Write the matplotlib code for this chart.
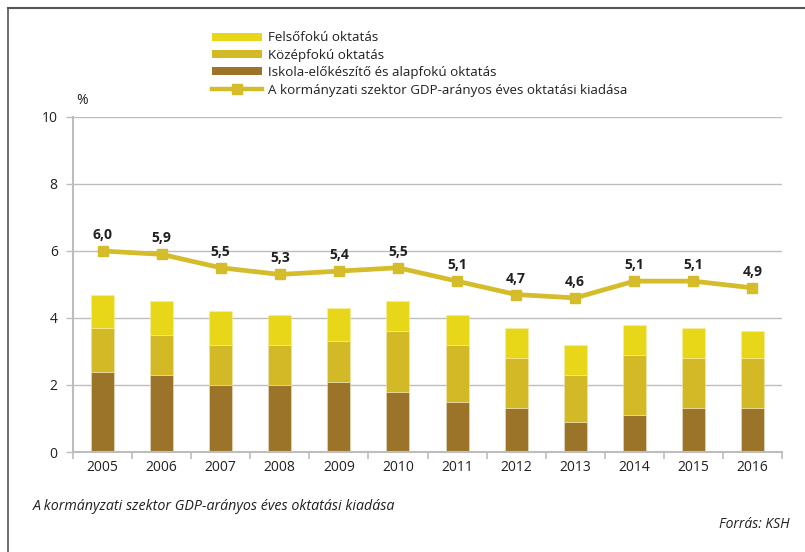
import numpy as np
import matplotlib.pyplot as plt
from matplotlib.lines import Line2D
from matplotlib.patches import Patch

# === Data ===
years = ["2005", "2006", "2007", "2008", "2009", "2010",
         "2011", "2012", "2013", "2014", "2015", "2016"]
alapfoku = [2.4, 2.3, 2.0, 2.0, 2.1, 1.8, 1.5, 1.3, 0.9, 1.1, 1.3, 1.3]
kozepfoku = [1.3, 1.2, 1.2, 1.2, 1.2, 1.8, 1.7, 1.5, 1.4, 1.8, 1.5, 1.5]
felsofoku = [1.0, 1.0, 1.0, 0.9, 1.0, 0.9, 0.9, 0.9, 0.9, 0.9, 0.9, 0.8]
gdp_total = [6.0, 5.9, 5.5, 5.3, 5.4, 5.5, 5.1, 4.7, 4.6, 5.1, 5.1, 4.9]

c_top = "#E8D619"
c_mid = "#D4B927"
c_bot = "#9B742A"
c_line = "#D4BC2A"
grid_c = "#BDBDBD"
text_c = "#231F20"

plt.rcParams["font.family"] = ["Open Sans", "DejaVu Sans"]

fig = plt.figure(figsize=(8.05, 5.52), dpi=100)
ax = fig.add_axes([73 / 805, 1 - 452 / 552, (782 - 73) / 805, (452 - 117) / 552])

x = np.arange(len(years))
w = 0.39
bot = np.array(alapfoku)
mid = np.array(kozepfoku)
ax.bar(x, alapfoku, w, color=c_bot, edgecolor="#E9E0C8", linewidth=0.4, zorder=2)
ax.bar(x, kozepfoku, w, bottom=bot, color=c_mid, edgecolor="#EFE6B0", linewidth=0.4, zorder=2)
ax.bar(x, felsofoku, w, bottom=bot + mid, color=c_top, edgecolor="#F5EFA0", linewidth=0.4, zorder=2)

ax.plot(x, gdp_total, color=c_line, linewidth=3.4, marker="s", markersize=7,
        markerfacecolor=c_line, markeredgecolor=c_line, zorder=3)
for xi, v in zip(x, gdp_total):
    ax.annotate(f"{v:.1f}".replace(".", ","), (xi, v), xytext=(0, 6.5),
                textcoords="offset points", ha="center", va="bottom",
                fontsize=10, fontweight="bold", color=text_c)

# axes styling
ax.set_xlim(-0.5, len(years) - 0.5)
ax.set_ylim(0, 10)
ax.set_yticks([0, 2, 4, 6, 8, 10])
ax.yaxis.grid(True, color=grid_c, linewidth=1.0, zorder=0)
ax.set_axisbelow(True)
for s in ["top", "right"]:
    ax.spines[s].set_visible(False)
for s in ["left", "bottom"]:
    ax.spines[s].set_color(grid_c)
    ax.spines[s].set_linewidth(1.5)
ax.set_xticks(x)
ax.set_xticklabels(years)
ax.set_xticks(np.arange(-0.5, len(years)), minor=True)
ax.tick_params(axis="x", which="major", length=0, pad=6, labelsize=10, labelcolor=text_c)
ax.tick_params(axis="x", which="minor", length=5, color=grid_c, width=1.2, direction="out")
ax.tick_params(axis="y", length=5, color=grid_c, width=1.0, labelsize=10,
               labelcolor=text_c, pad=6)

# percent sign
fig.text(76 / 805, 1 - 101 / 552, "%", fontsize=10, color=text_c, va="center")

# legend
handles = [
    Patch(facecolor=c_top, edgecolor="none", label="Felsőfokú oktatás"),
    Patch(facecolor=c_mid, edgecolor="none", label="Középfokú oktatás"),
    Patch(facecolor=c_bot, edgecolor="none", label="Iskola-előkészítő és alapfokú oktatás"),
    Line2D([0], [0], color=c_line, linewidth=3.2, marker="s", markersize=7,
           label="A kormányzati szektor GDP-arányos éves oktatási kiadása"),
]
leg = fig.legend(handles=handles, loc="upper left",
                 bbox_to_anchor=(207 / 805, 1 - 26 / 552), frameon=False,
                 fontsize=9.6, handlelength=3.7, handleheight=0.55,
                 handletextpad=0.45, labelspacing=0.33, borderaxespad=0)
for t in leg.get_texts():
    t.set_color(text_c)

# caption and source
fig.text(33 / 805, 1 - 506 / 552, "A kormányzati szektor GDP-arányos éves oktatási kiadása",
         fontsize=10.3, style="italic", color=text_c, va="center")
fig.text(790 / 805, 1 - 524 / 552, "Forrás: KSH", fontsize=10, style="italic",
         color=text_c, va="center", ha="right")

# frame lines (top and left)
fig.add_artist(Line2D([8 / 805, 1], [1 - 7.5 / 552, 1 - 7.5 / 552], color="#555555", linewidth=1.5))
fig.add_artist(Line2D([8 / 805, 8 / 805], [0, 1 - 7.5 / 552], color="#555555", linewidth=1.2))

plt.savefig("out.png", dpi=100)
